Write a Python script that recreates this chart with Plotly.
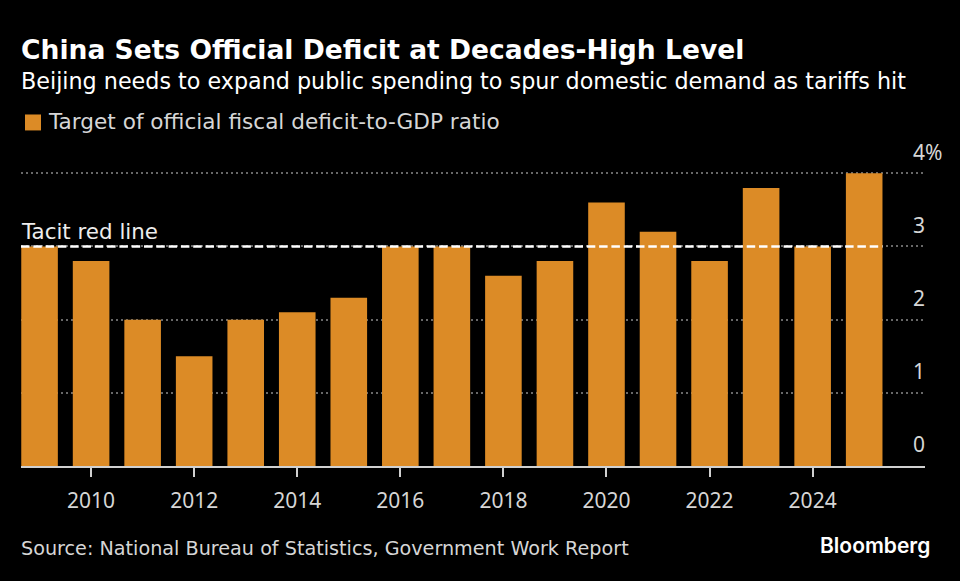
import plotly.graph_objects as go

years = list(range(2009, 2026))
deficit = [3.0, 2.8, 2.0, 1.5, 2.0, 2.1, 2.3, 3.0, 3.0, 2.6, 2.8, 3.6, 3.2, 2.8, 3.8, 3.0, 4.0]
x_ticks = [2010, 2012, 2014, 2016, 2018, 2020, 2022, 2024]
y_ticks = [0, 1, 2, 3, 4]
y_labels = ["0", "1", "2", "3", "4%"]
red_line = 3

title = "China Sets Official Deficit at Decades-High Level"
subtitle = "Beijing needs to expand public spending to spur domestic demand as tariffs hit"
series_name = "Target of official fiscal deficit-to-GDP ratio"
red_line_label = "Tacit red line"
source = "Source: National Bureau of Statistics, Government Work Report"

BAR = "#DC8B26"
TEXT = "#D6D6D6"
FONT = "DejaVu Sans"
TICK_FONT = "Noto Sans"
W, H = 960, 581
# top is a little above the 4% line so that its gridline is not clipped
LEFT, RIGHT, TOP, BOTTOM = 21, 925, 165.66, 466.5


def px(x):
    return (x - LEFT) / (RIGHT - LEFT)


def py(y):
    return (BOTTOM - y) / (BOTTOM - TOP)


def label(x, y, text, size, color="#FFFFFF", family=FONT, weight=400, xanchor="left"):
    fig.add_annotation(
        x=px(x), y=py(y), xref="paper", yref="paper", text=text, showarrow=False,
        xanchor=xanchor, yanchor="middle", align="left", borderpad=0, borderwidth=0,
        font=dict(size=size, color=color, family=family, weight=weight),
    )


fig = go.Figure()
fig.add_trace(go.Bar(x=years, y=deficit, name=series_name, width=0.71, marker=dict(color=BAR, line_width=0)))

# dashed line stops at the edge of the last bar
fig.add_trace(go.Scatter(
    x=[2008.64, years[-1] + 0.355], y=[red_line, red_line], mode="lines", hoverinfo="skip",
    line=dict(color="#FFFFFF", width=2.5, dash="8.5px,3.8px"),
))

fig.add_shape(type="rect", xref="paper", yref="paper", x0=px(25), x1=px(41), y0=py(130), y1=py(114),
              fillcolor=BAR, line_width=0)
label(21, 49, title, 26.55, weight=700)
label(21, 80, subtitle, 22.25)
label(47.5, 121, series_name, 21.6, color=TEXT)
label(21, 231, red_line_label, 21.4, color="#EDEDED")
label(21, 549, source, 19.2, color=TEXT)
label(930, 546, "Bloomberg", 21, family="Inter", weight=600, xanchor="right")

fig.update_layout(
    width=W, height=H, showlegend=False, plot_bgcolor="#000000", paper_bgcolor="#000000",
    margin=dict(l=LEFT, r=W - RIGHT, t=TOP, b=H - BOTTOM, pad=0),
    font=dict(family=FONT, color=TEXT),
    xaxis=dict(
        range=[2008.64, 2026.18], tickmode="array", tickvals=x_ticks, ticks="outside", ticklen=9,
        tickwidth=1.5, tickcolor="#D0D0D0", showline=True, linecolor="#D0D0D0", linewidth=1.5,
        showgrid=False, zeroline=False, tickfont=dict(size=21, color=TEXT, family=TICK_FONT), ticklabelstandoff=6,
    ),
    yaxis=dict(
        range=[0, 4.1], side="right", tickmode="array", tickvals=y_ticks, ticktext=y_labels,
        showgrid=True, gridcolor="#686868", griddash="2px,3px", gridwidth=1.5, zeroline=False,
        showline=False, ticks="", tickfont=dict(size=21, color=TEXT, family=TICK_FONT),
        ticklabelshift=-21, ticklabelstandoff=-13,
    ),
)

# plotly leaves the browser's default 8px body margin in place
fig.write_html(
    "out.html",
    config=dict(displayModeBar=False),
    post_script="document.body.style.margin='0';document.body.style.background='#000';",
)
